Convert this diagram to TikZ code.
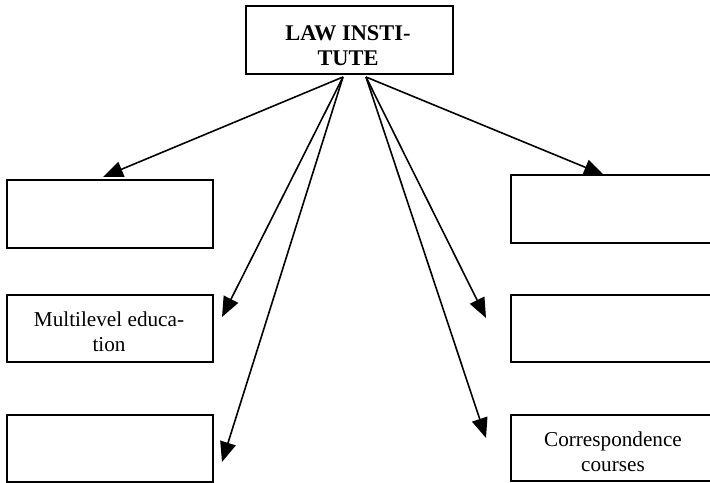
\documentclass[tikz,border=0pt]{standalone}
\usepackage{fontspec}
\setmainfont{Liberation Serif}
\usetikzlibrary{arrows.meta}
\begin{document}
\begin{tikzpicture}[x=0.5pt,y=-0.5pt,
  box/.style={draw, line width=1pt, inner sep=0pt, anchor=north west, fill=white},
  lbl/.style={font=\fontsize{10.6}{12.5}\selectfont, align=center, inner sep=0pt},
  arr/.style={line width=0.8pt, -{Triangle[length=10pt,width=8pt]}}]
\useasboundingbox (0,0) rectangle (710,482);
\clip (0,0) rectangle (710,482);

% head box
\node[box, minimum width=103.5pt, minimum height=34pt] (top) at (245,5) {};
\node[lbl, font=\fontsize{11.2}{12.5}\selectfont\bfseries] (toptxt) at (348,46) {LAW INSTI-\\TUTE};

% left column
\node[box, minimum width=103pt, minimum height=34pt]   (l1) at (6,179) {};
\node[box, minimum width=103pt, minimum height=33.5pt] (l2) at (6,294) {};
\node[box, minimum width=103pt, minimum height=33.5pt] (l3) at (6,414) {};
\node[lbl] (l2txt) at (109,332) {Multilevel educa-\\tion};

% right column
\node[box, minimum width=103.5pt, minimum height=34pt]   (r1) at (510,174) {};
\node[box, minimum width=103.5pt, minimum height=33.5pt] (r2) at (510,294) {};
\node[box, minimum width=103.5pt, minimum height=33pt]   (r3) at (510,414) {};
\node[lbl] (r3txt) at (613,452) {Correspondence\\courses};

% arrow start and end points
\coordinate (sL) at (343,77);
\coordinate (sR) at (366,77);
\coordinate (tl1) at (103,177);
\coordinate (tl2) at (222,317);
\coordinate (tl3) at (222,462);
\coordinate (tr1) at (604,175);
\coordinate (tr2) at (486,318);
\coordinate (tr3) at (486,438);

\draw[arr] (sL) -- (tl1);
\draw[arr] (sL) -- (tl2);
\draw[arr] (sL) -- (tl3);
\draw[arr] (sR) -- (tr1);
\draw[arr] (sR) -- (tr2);
\draw[arr] (sR) -- (tr3);
\end{tikzpicture}
\end{document}
